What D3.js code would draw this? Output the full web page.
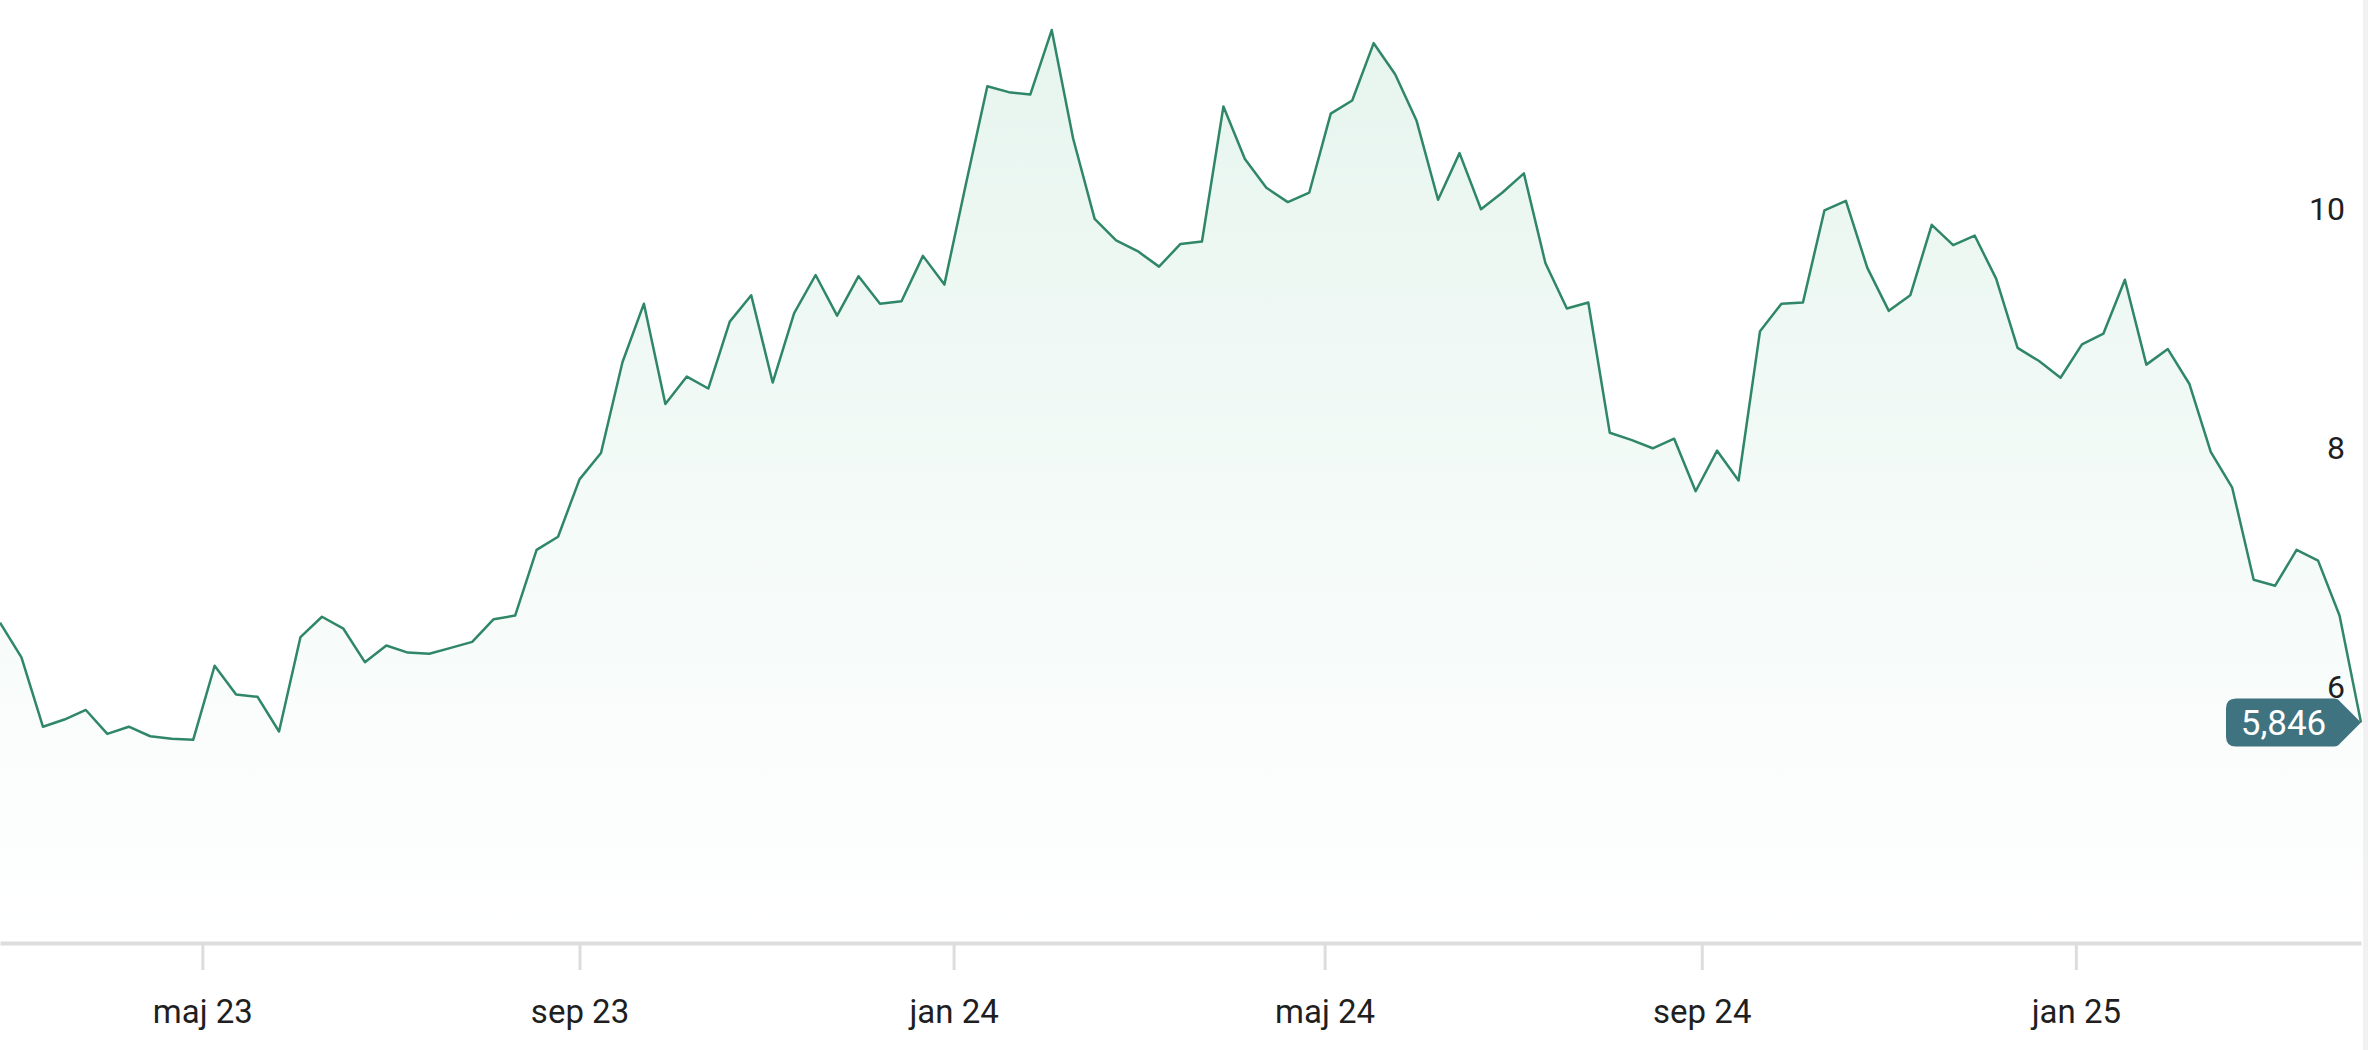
<!DOCTYPE html>
<html lang="sv">

<head>
    <meta charset="UTF-8">
    <meta name="viewport" content="width=device-width, initial-scale=1.0">
    <title>Kurs</title>
    <script src="https://cdn.jsdelivr.net/npm/d3@7"></script>
</head>
<style>
    html, body {
        margin: 0;
        padding: 0;
        background: #fff;
        overflow: hidden;
    }

    svg {
        display: block;
        font-family: Roboto, "Noto Sans", sans-serif;
    }

    .x-axis path.domain {
        stroke: #dddddd;
        stroke-width: 4;
    }

    .x-axis .tick line {
        stroke: #dddddd;
        stroke-width: 3;
    }

    .x-axis .tick text,
    .y-axis .tick text {
        fill: #1f1f1f;
    }
</style>

<body>
    <svg></svg>
</body>

</html>
<script>
    // weekly closes, friday to friday
    const firstWeek = new Date(2023, 1, 24)
    const lastWeek = new Date(2025, 3, 4)
    const prices = [
        6.68, 6.39, 5.81, 5.87, 5.95, 5.75, 5.81, 5.73, 5.71, 5.70,
        6.32, 6.08, 6.06, 5.77, 6.56, 6.73, 6.63, 6.35, 6.49, 6.43,
        6.42, 6.47, 6.52, 6.71, 6.74, 7.29, 7.40, 7.88, 8.10, 8.86,
        9.35, 8.51, 8.74, 8.64, 9.20, 9.42, 8.69, 9.27, 9.59, 9.25,
        9.58, 9.35, 9.37, 9.75, 9.51, 10.35, 11.17, 11.12, 11.10, 11.64,
        10.73, 10.06, 9.88, 9.79, 9.66, 9.85, 9.87, 11.00, 10.56, 10.32,
        10.20, 10.28, 10.94, 11.05, 11.53, 11.27, 10.88, 10.22, 10.61, 10.14,
        10.28, 10.44, 9.69, 9.31, 9.36, 8.27, 8.21, 8.14, 8.22, 7.78,
        8.12, 7.87, 9.12, 9.35, 9.36, 10.13, 10.21, 9.65, 9.29, 9.42,
        10.01, 9.84, 9.92, 9.56, 8.98, 8.87, 8.73, 9.01, 9.10, 9.55,
        8.84, 8.97, 8.68, 8.11, 7.81, 7.04, 6.99, 7.29, 7.20, 6.74,
        5.846
    ]
    const yTicks = [6, 8, 10]
    const xTicks = [
        new Date(2023, 4, 1), new Date(2023, 8, 1), new Date(2024, 0, 1),
        new Date(2024, 4, 1), new Date(2024, 8, 1), new Date(2025, 0, 1)
    ]
    const monthNames = ['jan', 'feb', 'mar', 'apr', 'maj', 'jun', 'jul', 'aug', 'sep', 'okt', 'nov', 'dec']

    window.onload = function () {
        const width = 2368
        const height = 1050
        const plotRight = 2361
        const baseY = 943

        const weeks = d3.timeFriday.range(firstWeek, d3.timeDay.offset(lastWeek, 1))
        const data = weeks.map((d, i) => ({ date: d, value: prices[i] }))

        const svg = d3.select('svg').attr('width', width).attr('height', height)

        const xScale = d3.scaleTime()
            .domain([firstWeek, lastWeek])
            .range([0, plotRight])

        const yScale = d3.scaleLinear()
            .domain([4, 12])
            .range([baseY, -13])

        const sv = d3.formatLocale({ decimal: ',', thousands: '\u00a0', grouping: [3], currency: ['', ' kr'] })

        // fill under the line
        const grad = svg.append('defs').append('linearGradient')
            .attr('id', 'fade')
            .attr('gradientUnits', 'userSpaceOnUse')
            .attr('x1', 0).attr('y1', 0)
            .attr('x2', 0).attr('y2', baseY)
        grad.append('stop').attr('offset', 0).attr('stop-color', '#3fae7e').attr('stop-opacity', 0.13)
        grad.append('stop').attr('offset', 1).attr('stop-color', '#3fae7e').attr('stop-opacity', 0)

        const area = d3.area()
            .x(d => xScale(d.date))
            .y0(baseY)
            .y1(d => yScale(d.value))

        const line = d3.line()
            .x(d => xScale(d.date))
            .y(d => yScale(d.value))

        svg.append('path')
            .datum(data)
            .attr('d', area)
            .attr('fill', 'url(#fade)')

        svg.append('path')
            .datum(data)
            .attr('d', line)
            .attr('fill', 'none')
            .attr('stroke', '#2f8768')
            .attr('stroke-width', 2.5)
            .attr('stroke-linejoin', 'round')

        // x axis
        const xAxis = svg.append('g')
            .attr('class', 'x-axis')
            .attr('transform', `translate(0, ${baseY})`)
            .call(d3.axisBottom(xScale)
                .tickValues(xTicks)
                .tickSize(27)
                .tickSizeOuter(0)
                .tickPadding(30)
                .tickFormat(d => monthNames[d.getMonth()] + ' ' + String(d.getFullYear()).slice(2)))
        xAxis.selectAll('text')
            .attr('font-size', 33)
            .attr('font-family', 'Roboto')

        // y labels sit just above their level, on the right
        const yAxis = svg.append('g')
            .attr('class', 'y-axis')
            .attr('transform', 'translate(2345, 0)')
            .call(d3.axisLeft(yScale)
                .tickValues(yTicks)
                .tickSize(0)
                .tickPadding(0)
                .tickFormat(d3.format('d')))
        yAxis.select('.domain').remove()
        yAxis.selectAll('text')
            .attr('dy', -7)
            .attr('font-size', 32)
            .attr('font-family', 'Roboto')

        // last price badge
        const last = data[data.length - 1]
        const lx = xScale(last.date)
        const ly = yScale(last.value)
        const bw = 135, bh = 48, tip = 24, r = 10
        const badge = svg.append('g').attr('transform', `translate(${lx}, ${ly})`)
        badge.append('path')
            .attr('d', `M ${-bw + r} ${-bh / 2}
                L ${-tip - 3} ${-bh / 2}
                Q ${-tip + 1} ${-bh / 2} ${-tip + 3} ${-bh / 2 + 3}
                L 0 0
                L ${-tip + 3} ${bh / 2 - 3}
                Q ${-tip + 1} ${bh / 2} ${-tip - 3} ${bh / 2}
                L ${-bw + r} ${bh / 2}
                Q ${-bw} ${bh / 2} ${-bw} ${bh / 2 - r}
                L ${-bw} ${-bh / 2 + r}
                Q ${-bw} ${-bh / 2} ${-bw + r} ${-bh / 2} Z`)
            .attr('fill', '#3f7380')
        badge.append('text')
            .attr('x', -(bw + tip) / 2 + 2)
            .attr('y', 0)
            .attr('dy', '0.35em')
            .attr('text-anchor', 'middle')
            .attr('fill', '#fff')
            .attr('font-size', 35)
            .attr('font-family', 'Roboto')
            .text(sv.format('.3f')(last.value))

        // grey strip on the far right edge
        svg.append('rect')
            .attr('x', 2363)
            .attr('y', 0)
            .attr('width', 5)
            .attr('height', height)
            .attr('fill', '#f1f1f1')
    }
</script>
